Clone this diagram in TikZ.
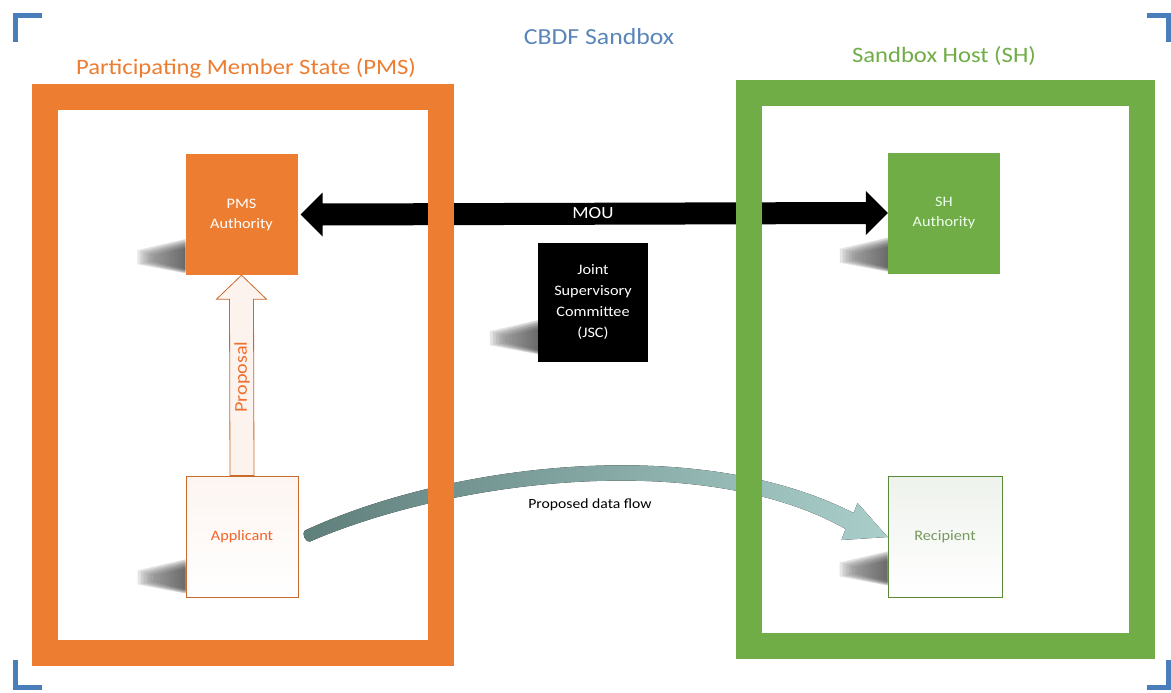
\documentclass[tikz,border=0pt]{standalone}
\usepackage{fontspec}
\setmainfont{Carlito}[FakeStretch=1.12]
\usetikzlibrary{calc}

\definecolor{pmsorange}{HTML}{ED7D31}
\definecolor{shgreen}{HTML}{70AD47}
\definecolor{cornerblue}{HTML}{4A7EBB}
\definecolor{cbdfblue}{HTML}{5A86BA}
\definecolor{flowdark}{HTML}{5F7F7B}
\definecolor{flowmid}{HTML}{7FA59C}
\definecolor{flowlight}{HTML}{AACFCB}
\definecolor{appfill}{HTML}{FDF5F1}
\definecolor{recfill}{HTML}{EEF2EC}
\definecolor{proposalfill}{HTML}{FDF3EE}

\pgfdeclarelayer{paper}
\pgfdeclarelayer{links}
\pgfdeclarelayer{frames}
\pgfsetlayers{paper,links,frames,main}

\tikzset{
  box/.style={rectangle, minimum width=112pt, minimum height=121pt,
    inner sep=0pt, align=center, font=\fontsize{14.5}{20}\selectfont},
  title/.style={anchor=base, font=\fontsize{22}{26}\selectfont},
  framebar/.style={line width=26pt},
  corner/.style={draw=cornerblue, line width=5pt},
  shadelayer/.style={left color=white, right color=black!55, opacity=0.11},
}

% soft perspective shadow on the lower left of a box: #1 node, #2 lift of its base
\newcommand\boxshade[2]{%
  \foreach \k in {0,2,4,6,8,10}{%
    \fill[shadelayer] ($(#1.south west)+(0,-#2-\k*0.4)$) -- ($(#1.south west)+(0,-#2-34+\k*0.9)$)
      -- ($(#1.south west)+(-48+\k*1.5,-#2-23+\k*0.5)$) -- ($(#1.south west)+(-48+\k*1.5,-#2-9-\k*0.3)$) -- cycle;}}

\begin{document}
\begin{tikzpicture}[x=1pt, y=-1pt]
  \useasboundingbox (0,0) rectangle (1171,693);
  \begin{pgfonlayer}{paper}
    \fill[white] (0,0) rectangle (1171,693);
  \end{pgfonlayer}

  % corner marks
  \draw[corner] (15.5,42) -- (15.5,15.5) -- (42,15.5);
  \draw[corner] (1147,15.5) -- (1168.5,15.5) -- (1168.5,42);
  \draw[corner] (15.5,660) -- (15.5,687.5) -- (42,687.5);
  \draw[corner] (1147,687.5) -- (1168.5,687.5) -- (1168.5,660);

  % titles
  \node[title, text=cbdfblue, font=\fontsize{23}{27}\selectfont] (cbdf) at (599,45) {CBDF Sandbox};
  \node[title, text=pmsorange] (pmstitle) at (246,75) {Participating Member State (PMS)};
  \node[title, text=shgreen] (shtitle) at (944,63) {Sandbox Host (SH)};

  % frames
  \begin{pgfonlayer}{frames}
    \draw[framebar, pmsorange] (45,97.5) rectangle (440.5,652.5);
    \draw[framebar, shgreen] (748.5,93.5) rectangle (1141.5,645.5);
  \end{pgfonlayer}

  % boxes
  \node[box, fill=pmsorange, text=white] (pms) at (241.5,214.5) {PMS\\Authority};
  \node[box, fill=shgreen, text=green!8!white] (sh) at (944,213) {SH\\Authority};
  \node[box, fill=black, text=white, minimum width=110pt, minimum height=119pt,
        font=\fontsize{14.5}{21}\selectfont] (jsc) at (593,302.5)
        {Joint\\Supervisory\\Committee\\(JSC)};
  \node[box, draw=pmsorange!85!black, line width=0.9pt, top color=appfill, bottom color=white,
        text=pmsorange!80!red] (app) at (242,536.5) {Applicant};
  \node[box, draw=shgreen!80!black, line width=0.9pt, top color=recfill, bottom color=white,
        minimum width=114pt, text=shgreen!55!gray] (rec) at (945,536.5) {Recipient};

  % shadows
  \boxshade{pms}{2}
  \boxshade{sh}{2}
  \boxshade{app}{4}
  \boxshade{rec}{12}
  \boxshade{jsc}{8}

  \begin{pgfonlayer}{links}
    % MOU double block arrow
    \fill[black] ($(pms.east)+(3,0)$) -- ($(pms.east)+(25,-22)$) -- ($(pms.east)+(25,-11)$)
      -- ($(sh.west)+(-22,-11)$) -- ($(sh.west)+(-22,-22)$) -- (sh.west)
      -- ($(sh.west)+(-22,22)$) -- ($(sh.west)+(-22,11)$)
      -- ($(pms.east)+(25,11)$) -- ($(pms.east)+(25,22)$) -- cycle;

    % proposed data flow
    \fill[left color=flowdark, middle color=flowmid, right color=flowlight]
      ($(app.east)+(6.5,-6)$)
      .. controls ($(app.east)+(149,-72)$) and ($(rec.west)+(-192,-104)$) .. ($(rec.west)+(-34,-23.5)$)
      -- ($(rec.west)+(-30,-33.5)$) -- ($(rec.west)+(0,0.5)$) -- ($(rec.west)+(-46,3.5)$)
      -- ($(rec.west)+(-42,-7.5)$)
      .. controls ($(rec.west)+(-184,-88)$) and ($(app.east)+(155,-57)$) .. ($(app.east)+(11.5,5)$)
      .. controls ($(app.east)+(7.5,7)$) and ($(app.east)+(2.5,-4)$) .. cycle;
  \end{pgfonlayer}

  % proposal block arrow
  \draw[fill=proposalfill, draw=pmsorange!85!black, line width=0.8pt]
    ($(app.north)+(-12,0)$) -- ($(pms.south)+(-12,24)$) -- ($(pms.south)+(-25,24)$)
    -- (pms.south) -- ($(pms.south)+(25,24)$) -- ($(pms.south)+(12,24)$)
    -- ($(app.north)+(12,0)$) -- cycle;

  % labels
  \node[text=white, font=\fontsize{17}{20}\selectfont] (moulbl) at (593,213) {MOU};
  \node[rotate=90, text=pmsorange!90!red, font=\fontsize{18}{20}\selectfont] (proplbl) at (242,377) {Proposal};
  \node[font=\fontsize{14}{17}\selectfont] (flowlbl) at (590,505) {Proposed data flow};
\end{tikzpicture}
\end{document}
